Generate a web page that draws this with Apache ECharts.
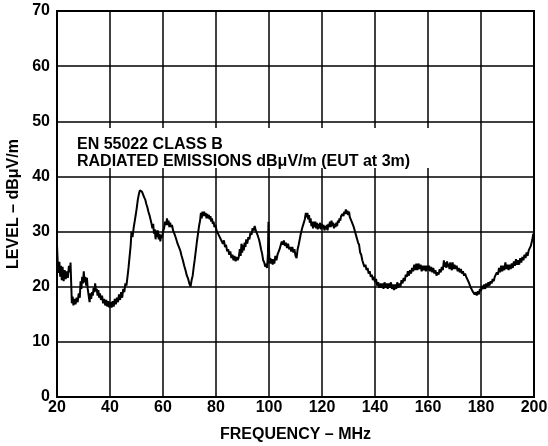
<!DOCTYPE html>
<html>
<head>
<meta charset="utf-8">
<script src="https://cdn.jsdelivr.net/npm/echarts@6/dist/echarts.min.js"></script>
<style>
html,body{margin:0;padding:0;background:#fff;}
#chart{width:548px;height:446px;}
</style>
</head>
<body>
<div id="chart"></div>
<script>
// Tick labels
const xTicks = [20, 40, 60, 80, 100, 120, 140, 160, 180, 200];
const yTicks = [0, 10, 20, 30, 40, 50, 60, 70];

// Annotation text
const noteLines = ['EN 55022 CLASS B', 'RADIATED EMISSIONS dBμV/m (EUT at 3m)'];

// Measured trace: [frequency MHz, level dBμV/m]
const trace = [
[20.0,27.5],[20.3,24.0],[20.6,22.5],[20.9,24.5],[21.2,21.8],[21.5,23.8],[21.8,21.2],[22.1,23.6],[22.5,21.0],[22.9,23.0],
[23.3,21.4],[23.7,22.8],[24.1,21.6],[24.5,23.8],[24.9,22.6],[25.1,24.4],[25.4,20.0],[25.6,17.0],[25.9,18.2],[26.2,16.6],
[26.6,17.8],[27.0,16.8],[27.4,18.0],[27.8,17.2],[28.2,18.8],[28.6,18.0],[28.9,21.0],[29.2,19.6],[29.5,21.8],[29.8,20.6],
[30.1,22.8],[30.4,20.8],[30.7,21.8],[31.0,20.2],[31.3,21.6],[31.6,19.6],[32.0,18.2],[32.3,17.2],[32.6,18.8],[32.9,17.8],
[33.2,19.0],[33.5,18.4],[33.8,19.8],[34.1,19.0],[34.4,20.6],[34.7,19.2],[35.0,19.6],[35.3,18.4],[35.6,19.4],[35.9,18.0],
[36.2,18.8],[36.6,17.6],[37.0,18.4],[37.4,17.0],[37.8,17.8],[38.2,16.6],[38.6,17.6],[39.0,16.4],[39.4,17.4],[39.8,16.2],
[40.2,17.2],[40.6,16.2],[41.0,17.4],[41.4,16.4],[41.8,17.8],[42.2,16.8],[42.6,18.0],[43.0,17.2],[43.4,18.6],[43.8,17.6],
[44.2,19.0],[44.6,18.0],[45.0,19.6],[45.4,19.0],[45.8,20.6],[46.2,20.2],[46.6,21.8],[47.0,23.5],[47.4,25.5],[47.8,27.5],
[48.1,30.0],[48.5,29.0],[48.9,30.6],[49.3,31.8],[49.7,33.0],[50.1,34.3],[50.5,35.8],[50.9,36.8],[51.3,37.5],[51.7,37.8],
[52.1,37.2],[52.5,37.0],[52.9,36.2],[53.3,35.8],[53.7,35.0],[54.1,34.4],[54.5,33.6],[55.0,32.8],[55.5,31.8],[56.0,30.6],
[56.3,31.4],[56.6,29.6],[56.9,30.4],[57.2,28.6],[57.5,30.2],[57.8,29.0],[58.1,30.2],[58.4,28.6],[58.7,29.6],[59.0,28.2],
[59.3,29.4],[59.6,28.8],[60.0,30.0],[60.4,30.6],[60.8,31.8],[61.2,31.2],[61.5,32.4],[61.8,31.2],[62.1,32.0],[62.4,30.8],
[62.7,31.6],[63.0,30.8],[63.4,31.2],[63.8,30.2],[64.2,30.4],[64.6,29.2],[65.0,28.6],[65.5,27.8],[66.0,27.6],[66.5,26.6],
[67.0,25.6],[67.5,24.8],[68.0,23.8],[68.5,23.0],[69.0,22.0],[69.5,21.4],[70.0,20.5],[70.4,20.0],[70.8,21.2],[71.2,22.0],
[71.6,23.6],[72.0,25.0],[72.4,26.6],[72.8,28.2],[73.2,29.6],[73.6,31.0],[74.0,32.0],[74.3,33.4],[74.6,32.4],[74.9,33.6],
[75.2,32.8],[75.5,33.6],[75.8,32.8],[76.1,33.4],[76.4,32.4],[76.7,33.2],[77.0,32.4],[77.3,33.0],[77.6,32.2],[77.9,32.8],
[78.2,31.8],[78.5,32.4],[78.8,31.4],[79.1,31.8],[79.4,30.8],[79.8,31.2],[80.2,30.2],[80.6,30.4],[81.0,29.4],[81.4,29.6],
[81.8,28.6],[82.2,28.8],[82.6,27.8],[83.0,28.4],[83.4,27.2],[83.8,27.6],[84.2,26.4],[84.6,26.8],[85.0,25.8],[85.4,26.4],
[85.8,25.2],[86.2,25.8],[86.6,24.8],[87.0,25.6],[87.4,24.6],[87.8,25.4],[88.2,24.8],[88.6,25.4],[89.0,26.8],[89.3,25.6],
[89.6,27.8],[89.9,26.2],[90.2,27.6],[90.5,26.6],[90.8,28.0],[91.1,27.2],[91.4,28.6],[91.8,27.8],[92.2,29.0],[92.6,28.6],
[93.0,29.8],[93.4,29.4],[93.8,30.6],[94.2,30.2],[94.6,31.0],[95.0,30.2],[95.4,30.4],[95.8,29.2],[96.2,28.6],[96.6,27.8],
[97.0,26.8],[97.4,26.0],[97.8,24.8],[98.2,24.4],[98.6,23.6],[99.0,24.2],[99.3,23.4],[99.6,26.0],[99.8,31.8],[100.0,27.0],
[100.2,24.2],[100.5,25.2],[100.8,24.2],[101.1,25.0],[101.4,24.0],[101.7,25.0],[102.0,24.2],[102.4,25.6],[102.8,24.8],[103.2,25.8],
[103.6,25.6],[104.0,26.8],[104.4,26.6],[104.8,28.2],[105.2,27.6],[105.6,28.4],[106.0,27.4],[106.4,28.0],[106.8,27.0],[107.2,27.8],
[107.6,26.8],[108.0,27.2],[108.4,26.4],[108.8,27.2],[109.2,26.2],[109.6,26.8],[110.0,25.6],[110.4,25.2],[110.8,26.8],[111.2,27.6],
[111.6,28.6],[112.0,29.6],[112.5,30.6],[113.0,31.4],[113.5,32.2],[113.9,33.4],[114.2,32.6],[114.5,33.4],[114.8,32.2],[115.1,33.0],
[115.4,31.6],[115.7,32.4],[116.0,31.0],[116.3,31.8],[116.6,30.6],[116.9,31.8],[117.2,30.8],[117.5,31.8],[117.8,30.6],[118.1,31.6],
[118.4,30.4],[118.7,31.4],[119.0,30.6],[119.3,31.6],[119.6,30.4],[120.0,31.4],[120.3,30.6],[120.6,31.2],[120.9,30.2],[121.2,31.0],
[121.5,30.4],[121.8,31.2],[122.1,30.2],[122.4,31.4],[122.7,30.8],[123.0,31.8],[123.3,30.8],[123.6,32.0],[123.9,31.0],[124.2,31.6],
[124.5,30.6],[124.8,31.4],[125.1,30.8],[125.4,31.6],[125.7,31.0],[126.0,32.0],[126.3,31.6],[126.6,32.4],[126.9,32.0],[127.2,32.8],
[127.5,32.6],[127.8,33.2],[128.1,32.8],[128.4,33.6],[128.7,33.2],[129.0,34.0],[129.3,33.2],[129.6,33.8],[129.9,33.0],[130.2,33.6],
[130.5,32.6],[130.8,32.8],[131.2,31.8],[131.6,31.6],[132.0,30.8],[132.4,30.6],[132.8,29.4],[133.2,29.2],[133.6,28.0],[134.0,27.6],
[134.4,26.2],[134.8,25.8],[135.2,24.8],[135.6,24.6],[136.0,23.6],[136.4,24.0],[136.8,23.0],[137.2,23.4],[137.6,22.4],[138.0,22.8],
[138.4,21.8],[138.8,22.2],[139.2,21.2],[139.6,21.8],[140.0,20.8],[140.4,21.4],[140.8,20.2],[141.2,20.8],[141.6,19.8],[142.0,20.6],
[142.4,19.8],[142.8,20.6],[143.2,19.6],[143.6,20.8],[144.0,19.8],[144.4,20.6],[144.8,19.6],[145.2,20.6],[145.6,19.8],[146.0,20.8],
[146.4,19.6],[146.8,20.4],[147.2,19.4],[147.6,20.4],[148.0,19.6],[148.4,20.8],[148.8,19.8],[149.2,20.6],[149.6,20.0],[150.0,21.2],
[150.4,20.6],[150.8,21.6],[151.2,21.0],[151.6,22.2],[152.0,21.8],[152.4,22.8],[152.8,22.0],[153.2,23.0],[153.6,22.4],[154.0,23.4],
[154.4,22.8],[154.8,24.0],[155.2,23.0],[155.6,24.2],[156.0,23.0],[156.4,24.2],[156.8,23.2],[157.2,24.0],[157.6,22.8],[158.0,23.8],
[158.4,23.0],[158.8,23.8],[159.2,22.8],[159.6,23.8],[160.0,23.0],[160.4,23.8],[160.8,22.8],[161.2,23.6],[161.6,22.6],[162.0,23.4],
[162.4,22.4],[162.8,23.0],[163.2,22.0],[163.6,22.6],[164.0,22.2],[164.4,23.2],[164.8,22.6],[165.2,23.6],[165.6,23.0],[166.0,24.8],
[166.3,23.6],[166.6,24.4],[166.9,23.4],[167.2,24.6],[167.5,23.6],[167.8,24.2],[168.1,23.2],[168.4,24.4],[168.7,23.6],[169.0,23.0],
[169.3,24.4],[169.6,23.2],[170.0,24.0],[170.4,23.2],[170.8,23.8],[171.2,22.8],[171.6,23.4],[172.0,22.6],[172.4,23.2],[172.8,22.4],
[173.2,22.8],[173.6,22.0],[174.0,22.4],[174.4,21.8],[174.8,21.8],[175.2,21.0],[175.6,20.8],[176.0,20.0],[176.4,20.0],[176.8,19.2],
[177.2,19.4],[177.6,18.6],[178.0,19.0],[178.4,18.4],[178.8,19.2],[179.2,18.6],[179.6,19.6],[180.0,19.2],[180.4,20.2],[180.8,19.6],
[181.2,20.4],[181.6,19.6],[182.0,20.6],[182.4,20.0],[182.8,20.8],[183.2,20.2],[183.6,21.0],[184.0,20.6],[184.4,21.4],[184.8,21.0],
[185.2,21.8],[185.6,21.6],[186.0,22.6],[186.4,22.2],[186.8,23.4],[187.2,22.6],[187.6,23.8],[188.0,22.8],[188.4,23.8],[188.8,23.0],
[189.2,24.4],[189.6,23.2],[190.0,24.0],[190.4,23.0],[190.8,24.0],[191.2,23.2],[191.6,24.2],[192.0,23.4],[192.4,24.6],[192.8,23.8],
[193.2,25.0],[193.6,24.0],[194.0,24.8],[194.4,24.0],[194.8,25.2],[195.2,24.4],[195.6,25.4],[196.0,24.8],[196.4,25.8],[196.8,25.2],
[197.2,26.2],[197.6,25.6],[198.0,26.6],[198.4,26.6],[198.8,27.4],[199.1,28.0],[199.4,28.6],[199.7,29.6],[200.0,28.8]
];

const FONT = '"Liberation Sans", Arial, Helvetica, sans-serif';
const chart = echarts.init(document.getElementById('chart'), null, {renderer: 'canvas'});

const option = {
  animation: false,
  backgroundColor: '#fff',
  grid: {
    left: 57, right: 14, top: 11, bottom: 49,
    containLabel: false, outerBoundsMode: 'none',
    show: true, borderColor: '#000', borderWidth: 2, backgroundColor: 'transparent'
  },
  xAxis: {
    type: 'value',
    min: xTicks[0], max: xTicks[xTicks.length - 1], interval: xTicks[1] - xTicks[0],
    name: 'FREQUENCY – MHz', nameLocation: 'middle', nameGap: 30,
    nameTextStyle: {fontFamily: FONT, fontWeight: 'bold', fontSize: 16, color: '#000'},
    axisLine: {show: true, lineStyle: {color: '#000', width: 2}},
    axisTick: {show: false},
    axisLabel: {fontFamily: FONT, fontWeight: 'bold', fontSize: 16, color: '#000', margin: 3},
    splitLine: {show: true, lineStyle: {color: '#000', width: 1.5}}
  },
  yAxis: {
    type: 'value',
    min: yTicks[0], max: yTicks[yTicks.length - 1], interval: yTicks[1] - yTicks[0],
    name: 'LEVEL – dBμV/m', nameLocation: 'middle', nameGap: 35,
    nameTextStyle: {fontFamily: FONT, fontWeight: 'bold', fontSize: 16, color: '#000'},
    axisLine: {show: true, lineStyle: {color: '#000', width: 2}},
    axisTick: {show: false},
    axisLabel: {fontFamily: FONT, fontWeight: 'bold', fontSize: 16, color: '#000', margin: 7},
    splitLine: {show: true, lineStyle: {color: '#000', width: 1.5}}
  },
  graphic: [
    {type: 'rect', left: 58, top: 128, z: 50, shape: {width: 392, height: 40}, style: {fill: '#fff'}},
    {type: 'text', left: 77, top: 136, z: 51,
     style: {text: noteLines.join('\n'), fill: '#000', font: 'bold 16px ' + FONT, lineHeight: 17}}
  ],
  series: [{
    type: 'line',
    data: trace,
    showSymbol: false,
    symbol: 'none',
    lineStyle: {color: '#000', width: 2},
    z: 10
  }]
};
chart.setOption(option);
</script>
</body>
</html>
